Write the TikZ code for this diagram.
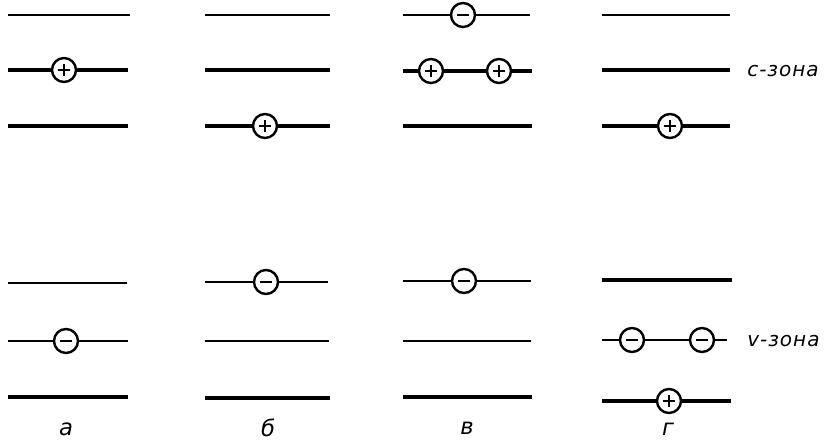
\documentclass[tikz,border=0pt]{standalone}
\usepackage{fontspec}
\newfontfamily\labfont{DejaVu Sans}[LetterSpace=5]
\tikzset{
  thinlev/.style={line width=1.9pt},
  medlev/.style={line width=2.8pt},
  thicklev/.style={line width=3.6pt},
  carrier/.style={circle, draw, line width=1.8pt, fill=white, minimum size=18pt, inner sep=0pt},
  holec/.style={carrier, path picture={
      \draw[line width=2pt] ([xshift=-4.6pt]path picture bounding box.center) -- ([xshift=4.6pt]path picture bounding box.center);
      \draw[line width=2pt] ([yshift=-4.6pt]path picture bounding box.center) -- ([yshift=4.6pt]path picture bounding box.center);}},
  elec/.style={carrier, path picture={
      \draw[line width=2pt] ([xshift=-4.6pt]path picture bounding box.center) -- ([xshift=4.6pt]path picture bounding box.center);}},
  lab/.style={font=\labfont\itshape\fontsize{15}{17}\selectfont, inner sep=0pt},
  collab/.style={font=\labfont\itshape\fontsize{17}{19}\selectfont, inner sep=0pt}
}
\begin{document}
\begin{tikzpicture}[x=0.75pt,y=-0.75pt]
\useasboundingbox (0,0) rectangle (827,441);
% column a
\draw[thinlev] (8,15) -- (130,15);
\draw[medlev] (8,70) -- (128,70);
\draw[thicklev] (8,126) -- (128,126);
\draw[thinlev] (8,283) -- (127,283);
\draw[thinlev] (8,341) -- (128,341);
\draw[thicklev] (8,397) -- (128,397);
\node[holec] (a1) at (64,70) {};
\node[elec] (a2) at (66,341) {};
\node[collab] (la) at (66,429) {а};
% column b
\draw[thinlev] (205,15) -- (330,15);
\draw[medlev] (205,70) -- (330,70);
\draw[thicklev] (205,126) -- (330,126);
\draw[thinlev] (205,282) -- (328,282);
\draw[thinlev] (205,341) -- (329,341);
\draw[thicklev] (205,398) -- (330,398);
\node[holec] (b1) at (265,126) {};
\node[elec] (b2) at (266,282) {};
\node[collab] (lb) at (268,428) {б};
% column v
\draw[thinlev] (403,15) -- (530,15);
\draw[medlev] (403,71) -- (532,71);
\draw[thicklev] (403,126) -- (532,126);
\draw[thinlev] (403,281) -- (531,281);
\draw[thinlev] (403,341) -- (531,341);
\draw[thicklev] (403,397) -- (532,397);
\node[elec] (v1) at (463,15) {};
\node[holec] (v2) at (431,71) {};
\node[holec] (v3) at (499,71) {};
\node[elec] (v4) at (464,281) {};
\node[collab] (lv) at (467,428) {в};
% column g
\draw[thinlev] (602,15) -- (730,15);
\draw[medlev] (602,70) -- (730,70);
\draw[thicklev] (602,126) -- (730,126);
\draw[medlev] (602,280) -- (732,280);
\draw[thinlev] (602,340) -- (727,340);
\draw[thicklev] (602,401) -- (731,401);
\node[holec] (g1) at (670,126) {};
\node[elec] (g2) at (632,340) {};
\node[elec] (g3) at (702,340) {};
\node[holec] (g4) at (669,401) {};
\node[collab] (lg) at (668,429) {г};
% zone labels
\node[lab, anchor=west] (cz) at (747,71) {c-зона};
\node[lab, anchor=west] (vz) at (747,341) {v-зона};
\end{tikzpicture}
\end{document}
